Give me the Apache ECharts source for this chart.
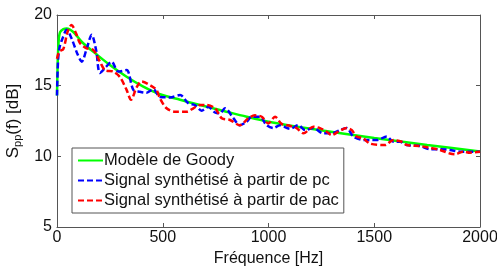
<!DOCTYPE html>
<html><head><meta charset="utf-8">
<script src="https://cdn.jsdelivr.net/npm/echarts@6/dist/echarts.min.js"></script>
<style>html,body{margin:0;padding:0;background:#fff}#c{width:497px;height:266px}</style>
</head><body><div id="c"></div>
<script>
var seriesNames = ['Modèle de Goody', 'Signal synthétisé à partir de pc', 'Signal synthétisé à partir de pac'];
var xTicks = [0, 500, 1000, 1500, 2000];
var yTicks = [5, 10, 15, 20];

var freqGoody = [0, 3, 8, 15, 30, 46, 77, 124, 188, 250, 329, 408, 487, 582, 676, 770, 897, 1007, 1200, 1500, 1750, 2000];
var valGoody  = [14.3, 16.5, 18.2, 18.8, 19.0, 19.05, 18.8, 18.0, 17.2, 16.46, 15.63, 14.93, 14.39, 14.0, 13.63, 13.28, 12.8, 12.43, 11.95, 11.3, 10.8, 10.35];

var freqPc = [0, 5, 12, 25, 46, 70, 95, 117, 140, 164, 185, 203, 230, 258, 290, 329, 361, 392, 424, 455, 487, 534, 582, 621, 652, 684, 715, 747, 770, 794, 834, 865, 897, 920, 960, 991, 1023, 1054, 1102, 1141, 1173, 1212, 1259, 1299, 1338, 1370, 1401, 1456, 1488, 1512, 1559, 1590, 1622, 1654, 1716, 1764, 1811, 1858, 1905, 1953, 2000];
var valPc  = [14.3, 16.8, 17.7, 18.3, 18.95, 18.3, 17.3, 16.7, 17.6, 18.6, 17.5, 15.9, 16.3, 16.7, 16.0, 16.1, 14.7, 14.57, 14.5, 14.75, 14.2, 14.17, 14.34, 13.75, 13.63, 13.23, 13.5, 13.1, 13.04, 13.4, 12.7, 12.2, 12.45, 12.8, 12.8, 12.2, 12.0, 12.2, 11.95, 12.2, 11.86, 12.0, 11.63, 11.63, 11.86, 12.0, 11.4, 11.15, 11.15, 11.15, 11.4, 11.03, 11.03, 10.8, 10.73, 10.5, 10.5, 10.45, 10.33, 10.33, 10.33];

var freqPac = [0, 10, 30, 50, 69, 90, 109, 140, 172, 203, 227, 266, 298, 329, 350, 377, 400, 447, 470, 487, 518, 558, 613, 645, 676, 707, 747, 779, 818, 865, 905, 936, 968, 999, 1031, 1062, 1102, 1133, 1165, 1212, 1243, 1275, 1299, 1330, 1370, 1393, 1417, 1448, 1480, 1551, 1590, 1630, 1654, 1716, 1764, 1811, 1858, 1882, 1921, 1953, 2000];
var valPac  = [16.9, 17.4, 17.6, 18.8, 19.3, 18.7, 18.0, 17.64, 17.52, 16.7, 16.1, 16.0, 15.6, 14.7, 14.0, 14.9, 15.3, 14.97, 14.7, 14.1, 13.4, 13.16, 13.16, 13.4, 13.63, 13.63, 13.4, 12.7, 12.57, 12.2, 12.7, 12.9, 12.8, 12.33, 12.8, 12.3, 12.15, 12.0, 11.63, 12.1, 12.0, 11.74, 11.5, 11.74, 12.0, 11.86, 11.4, 11.27, 10.9, 10.8, 11.15, 11.03, 10.8, 10.73, 10.6, 10.45, 10.2, 10.15, 10.33, 10.26, 10.33];

function pairs(xs, ys){ return xs.map(function(x,i){ return [x, ys[i]]; }); }

var FONT = 'Liberation Sans, Arial, sans-serif';
var FS = 16;
var AX = '#555';
var TXT = '#111';
var chart = echarts.init(document.getElementById('c'), null, {renderer:'canvas'});
function xBase(){ return {
  type:'value', min:xTicks[0], max:xTicks[xTicks.length-1], interval:xTicks[1]-xTicks[0],
  axisLine:{show:true, onZero:false, lineStyle:{color:AX, width:1}},
  axisTick:{show:true, inside:true, length:4, lineStyle:{color:AX}},
  splitLine:{show:false}
};}
function yBase(){ return {
  type:'value', min:yTicks[0], max:yTicks[yTicks.length-1], interval:yTicks[1]-yTicks[0],
  axisLine:{show:true, onZero:false, lineStyle:{color:AX, width:1}},
  axisTick:{show:true, inside:true, length:4, lineStyle:{color:AX}},
  splitLine:{show:false}
};}
chart.setOption({
  animation:false,
  backgroundColor:'#fff',
  grid:{left:57, right:17, top:15, bottom:39, containLabel:false, outerBoundsMode:'none'},
  legend:{
    show:true,
    orient:'vertical', left:72, top:148,
    data:seriesNames,
    itemWidth:25, itemHeight:17, itemGap:3,
    padding:[4,5,4,5],
    borderColor:'#555', borderWidth:1, backgroundColor:'#fff',
    itemStyle:{color:'transparent', borderColor:'transparent', borderWidth:0, opacity:0},
    textStyle:{fontFamily:FONT, fontSize:16.5, color:TXT, padding:[0,0,0,-4]}
  },
  xAxis:[
    Object.assign(xBase(), {position:'bottom',
      name:'Fréquence [Hz]', nameLocation:'middle', nameGap:19,
      nameTextStyle:{fontFamily:FONT, fontSize:FS, color:TXT},
      axisLabel:{fontFamily:FONT, fontSize:FS, color:TXT, margin:3, formatter:function(v){return String(v);}}}),
    Object.assign(xBase(), {position:'top', axisLabel:{show:false}})
  ],
  yAxis:[
    Object.assign(yBase(), {position:'left',
      name:'{s|S}{sub|pp}{s|(f) [dB]}', nameLocation:'middle', nameGap:32, nameRotate:90,
      nameTextStyle:{rich:{
        s:{fontFamily:FONT, fontSize:FS+1, color:TXT},
        sub:{fontFamily:FONT, fontSize:11, color:TXT, verticalAlign:'bottom', padding:[9,0,0,0]}
      }},
      axisLabel:{fontFamily:FONT, fontSize:FS, color:TXT, margin:5}}),
    Object.assign(yBase(), {position:'right', axisLabel:{show:false}})
  ],
  series:[
    {name:seriesNames[0], type:'line', data:pairs(freqGoody, valGoody), showSymbol:false, symbol:'none', smooth:0.3,
     lineStyle:{color:'#00ff00', width:2.5, type:'solid'}, itemStyle:{color:'#00ff00'}, z:2},
    {name:seriesNames[1], type:'line', data:pairs(freqPc, valPc), showSymbol:false, symbol:'none', smooth:0.3,
     lineStyle:{color:'#0000ff', width:2.5, type:[6,3]}, itemStyle:{color:'#0000ff'}, z:3},
    {name:seriesNames[2], type:'line', data:pairs(freqPac, valPac), showSymbol:false, symbol:'none', smooth:0.3,
     lineStyle:{color:'#ff0000', width:2.5, type:[6,3]}, itemStyle:{color:'#ff0000'}, z:4}
  ]
});
</script></body></html>
